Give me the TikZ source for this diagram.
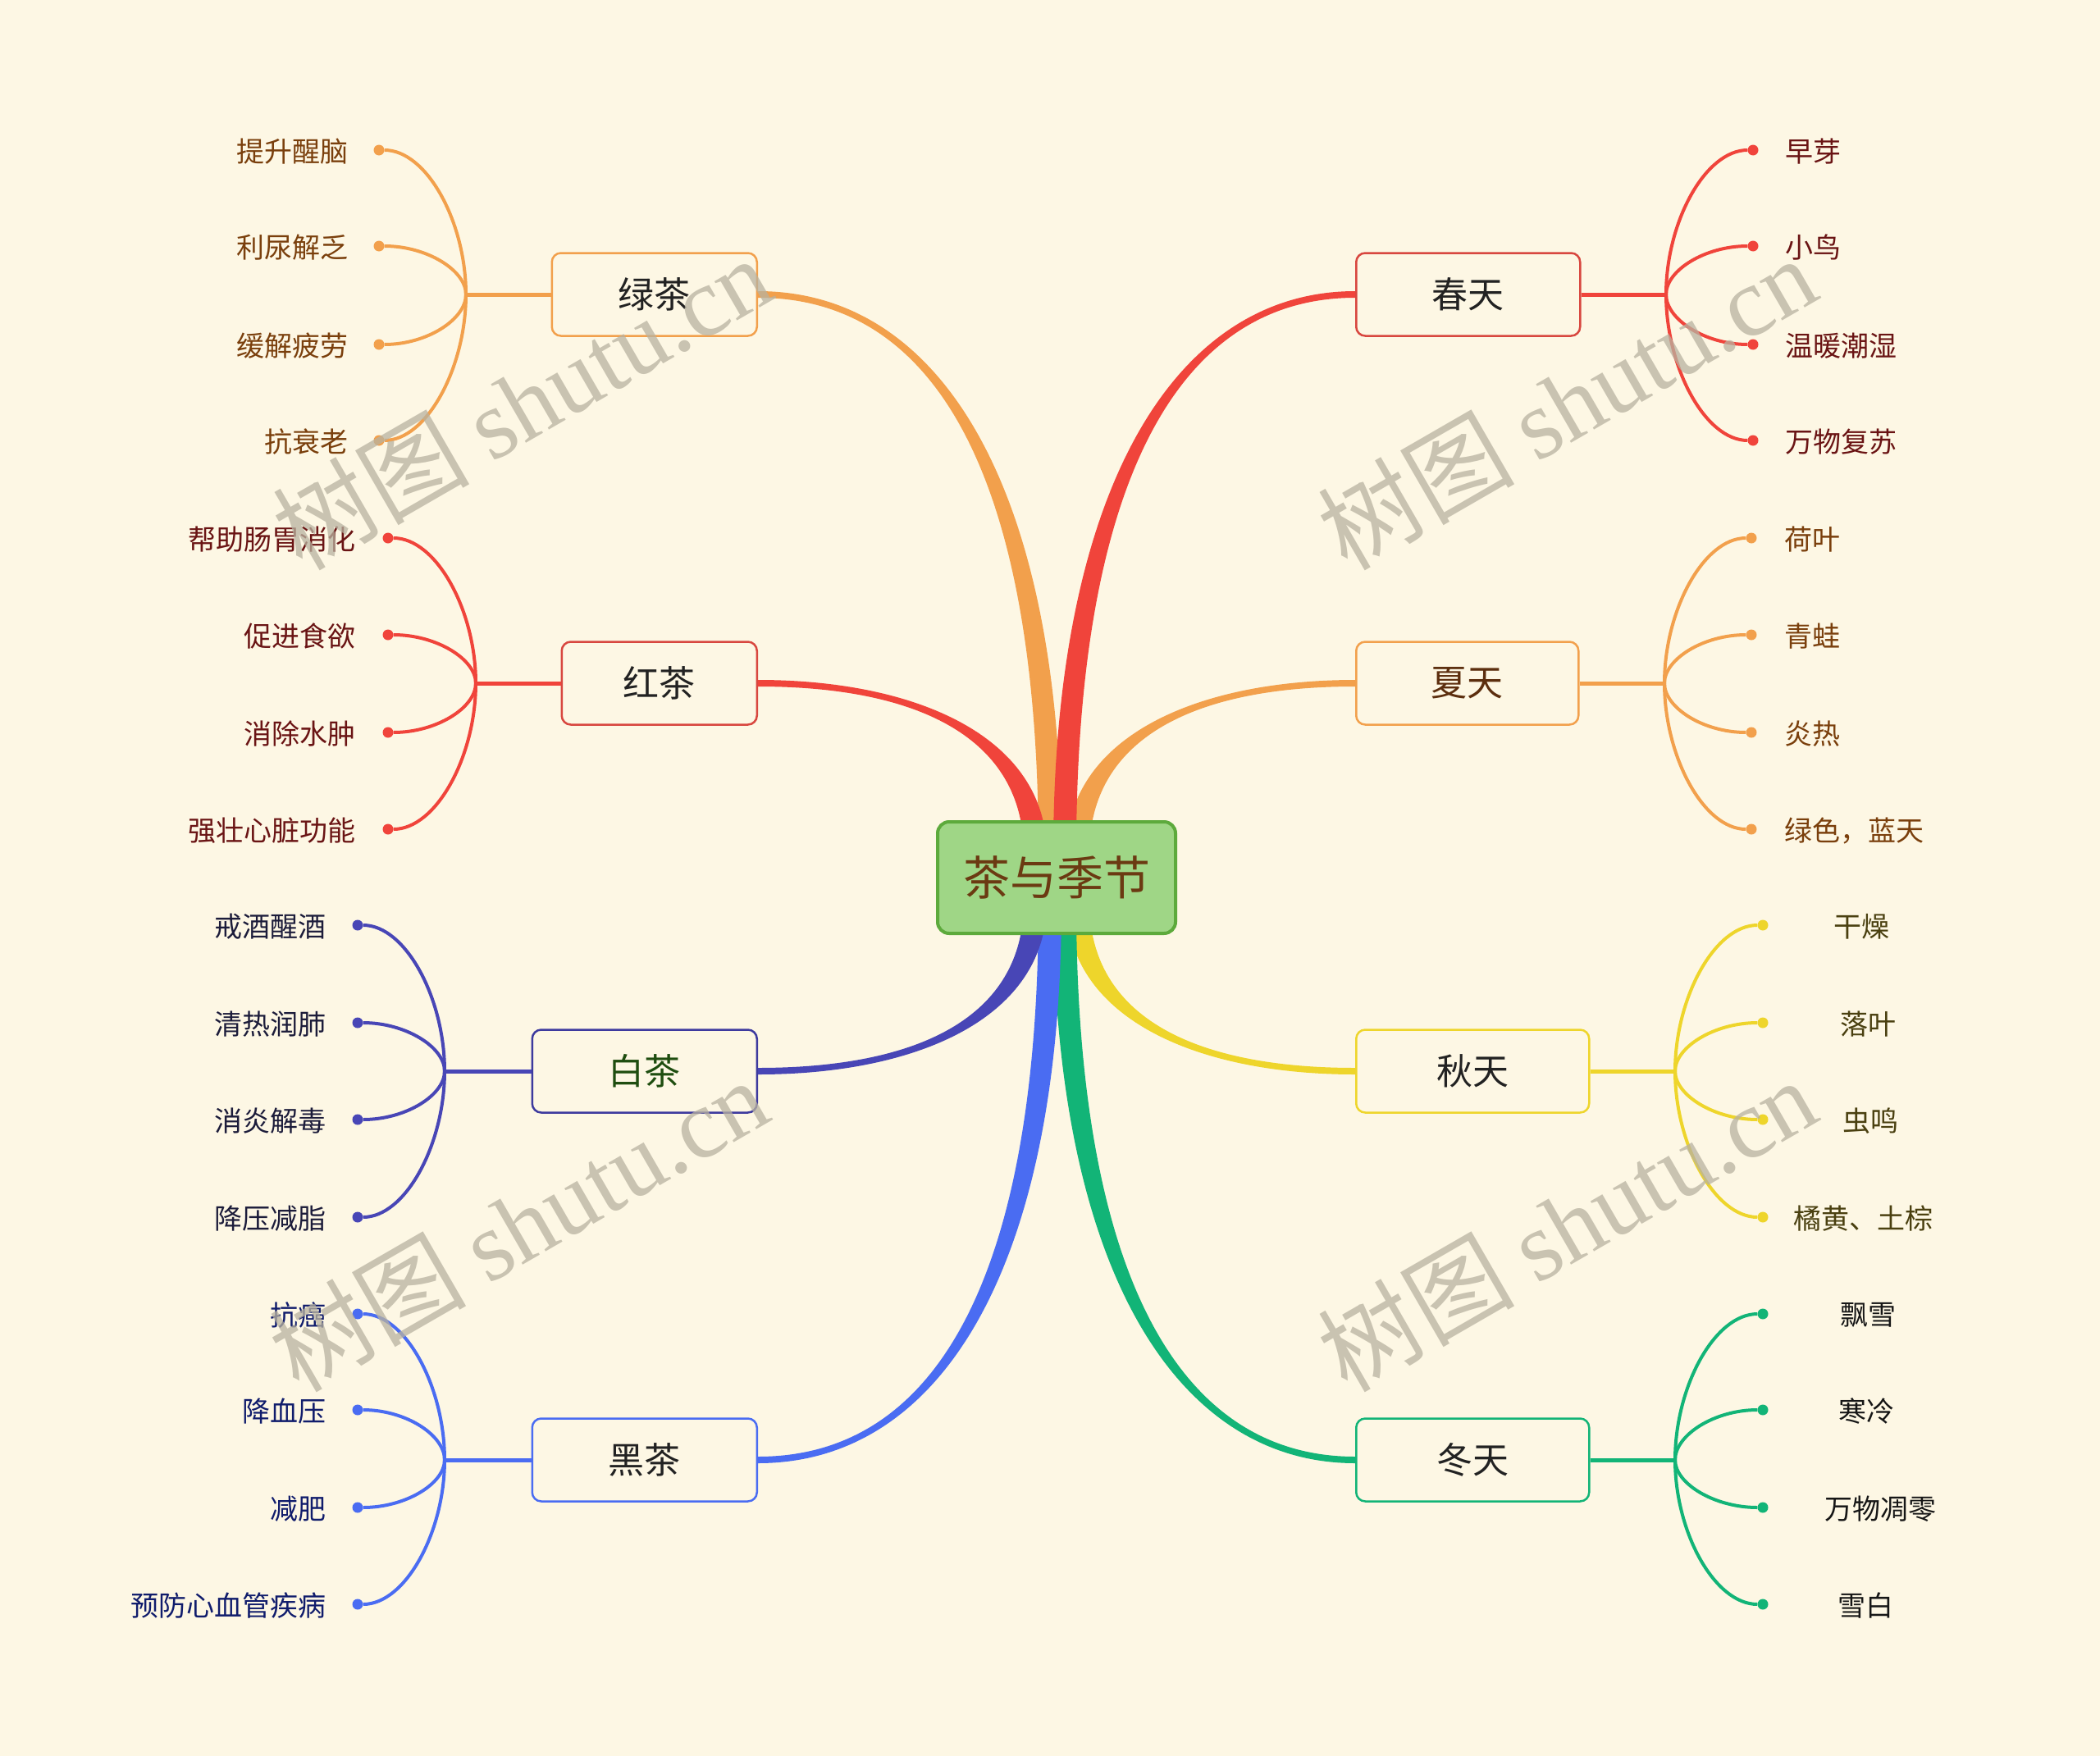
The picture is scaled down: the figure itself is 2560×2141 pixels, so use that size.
\documentclass[tikz,border=0pt]{standalone}
\usepackage{fontspec}
\setmainfont{Noto Sans CJK SC}
\newfontfamily\wmlatin{Liberation Serif}
\usetikzlibrary{calc}
\definecolor{bg}{HTML}{FDF7E4}
\definecolor{lOr}{HTML}{F2A04C}
\definecolor{lRd}{HTML}{F0443B}
\definecolor{lIn}{HTML}{4846B6}
\definecolor{lBl}{HTML}{4A6CF2}
\definecolor{lYe}{HTML}{EED52B}
\definecolor{lGn}{HTML}{12B477}
\definecolor{bRd}{HTML}{D8473F}
\definecolor{bIn}{HTML}{3D3A9E}
\definecolor{tOr}{HTML}{7A3F0C}
\definecolor{tRd}{HTML}{6A1414}
\definecolor{tIn}{HTML}{1C1C3A}
\definecolor{tBl}{HTML}{101C6C}
\definecolor{tYe}{HTML}{4A4010}
\definecolor{tGn}{HTML}{161616}
\definecolor{lvtext}{HTML}{222222}
\definecolor{baitext}{HTML}{1E4D0F}
\definecolor{xiatext}{HTML}{5C2E0E}
\definecolor{rootfill}{HTML}{9FD686}
\definecolor{rootdraw}{HTML}{5DAA3C}
\definecolor{roottext}{HTML}{6B3A12}
\definecolor{wmgray}{HTML}{B8B2A0}
\tikzset{
  lvone/.style={draw, rounded corners=11pt, line width=2.5pt, fill=bg, minimum height=101pt, inner sep=0pt, font=\fontsize{44}{50}\selectfont, text=lvtext},
  leafdot/.style={circle, fill=#1, inner sep=0pt, minimum size=13pt},
  leaftxt/.style={inner sep=0pt, yshift=-1.5pt, font=\fontsize{34}{40}\selectfont},
  leafline/.style={draw=#1, line width=4pt},
  hline/.style={draw=#1, line width=5pt},
  wm/.style={text=wmgray, text opacity=0.75, rotate=30, anchor=base west, inner sep=0pt, font=\fontsize{120}{125}\selectfont}
}
% #1 color, #2 start anchor, #3 end coordinate, #4 sx, #5 sy, #6 dx of first control, #7 dy of second control
\newcommand\mmtaper[7]{%
  \fill[#1] ($(#2)+(0,{-(#4)*4})$) .. controls ($(#2)+(#6,{-(#4)*4})$) and ($(#3)+({(#5)*14},#7)$) .. ($(#3)+({(#5)*14},0)$)
    -- ($(#3)+({-(#5)*14},0)$) .. controls ($(#3)+({-(#5)*14},#7)$) and ($(#2)+(#6,{(#4)*4})$) .. ($(#2)+(0,{(#4)*4})$) -- cycle;}
% #1 trunk name, #2 dot x, #3 line colour, #4 text colour, #5 text options, #6 list y/text/textx
\newcommand\mmleaves[6]{%
  \foreach \y/\t/\tx [count=\i] in {#6} {
    \node[leafdot=#3] (#1d\i) at (#2,\y) {};
    \node[leaftxt, text=#4, #5] (#1t\i) at (\tx,\y) {\t};
    \draw[leafline=#3] (#1) .. controls ($(#1)!0.5!(#1 |- #1d\i)$) and ($(#1 |- #1d\i)!0.45!(#1d\i)$) .. (#1d\i);
  }}
\begin{document}
\begin{tikzpicture}[x=1pt,y=-1pt]
\useasboundingbox (0,0) rectangle (2560,2141);
\fill[bg] (0,0) rectangle (2560,2141);

% level one nodes
\node[lvone, draw=lOr, anchor=east, minimum width=250pt] (nG) at (924,359) {绿茶};
\node[lvone, draw=bRd, anchor=east, minimum width=238pt] (nR) at (924,833) {红茶};
\node[lvone, draw=bIn, anchor=east, minimum width=274pt, text=baitext] (nB) at (924,1306) {白茶};
\node[lvone, draw=lBl, anchor=east, minimum width=274pt] (nK) at (924,1780) {黑茶};
\node[lvone, draw=bRd, anchor=west, minimum width=273pt] (sC) at (1652,359) {春天};
\node[lvone, draw=lOr, anchor=west, minimum width=271pt, text=xiatext] (sX) at (1652,833) {夏天};
\node[lvone, draw=lYe, anchor=west, minimum width=284pt] (sQ) at (1652,1306) {秋天};
\node[lvone, draw=lGn, anchor=west, minimum width=284pt] (sD) at (1652,1780) {冬天};

% trunks
\coordinate (tG) at (568,359);
\coordinate (tR) at (580,833);
\coordinate (tB) at (542,1306);
\coordinate (tK) at (542,1780);
\coordinate (tC) at (2031,359);
\coordinate (tX) at (2029,833);
\coordinate (tQ) at (2042,1306);
\coordinate (tD) at (2042,1780);
\draw[hline=lOr] (nG.west) -- (tG);
\draw[hline=lRd] (nR.west) -- (tR);
\draw[hline=lIn] (nB.west) -- (tB);
\draw[hline=lBl] (nK.west) -- (tK);
\draw[hline=lRd] (sC.east) -- (tC);
\draw[hline=lOr] (sX.east) -- (tX);
\draw[hline=lYe] (sQ.east) -- (tQ);
\draw[hline=lGn] (sD.east) -- (tD);

% leaves
\mmleaves{tG}{462}{lOr}{tOr}{anchor=east}{183/提升醒脑/425, 300/利尿解乏/425, 420/缓解疲劳/425, 537/抗衰老/425}
\mmleaves{tR}{473}{lRd}{tRd}{anchor=east}{656/帮助肠胃消化/434, 774/促进食欲/434, 893/消除水肿/434, 1011/强壮心脏功能/434}
\mmleaves{tB}{436}{lIn}{tIn}{anchor=east}{1128/戒酒醒酒/398, 1247/清热润肺/398, 1365/消炎解毒/398, 1484/降压减脂/398}
\mmleaves{tK}{436}{lBl}{tBl}{anchor=east}{1602/抗癌/398, 1719/降血压/398, 1838/减肥/398, 1956/预防心血管疾病/398}
\mmleaves{tC}{2137}{lRd}{tRd}{anchor=west}{183/早芽/2176, 300/小鸟/2176, 420/温暖潮湿/2176, 537/万物复苏/2176}
\mmleaves{tX}{2135}{lOr}{tOr}{anchor=west}{656/荷叶/2175, 774/青蛙/2175, 893/炎热/2175, 1011/绿色，蓝天/2175}
\mmleaves{tQ}{2149}{lYe}{tYe}{anchor=center}{1128/干燥/2269, 1247/落叶/2277, 1365/虫鸣/2280, 1484/橘黄、土棕/2271}
\mmleaves{tD}{2149}{lGn}{tGn}{anchor=center}{1602/飘雪/2277, 1719/寒冷/2275, 1838/万物凋零/2292, 1956/雪白/2274}

% thick connectors to the root
\coordinate (cG) at (1280,1040);
\coordinate (cR) at (1262,1040);
\coordinate (cC) at (1298,1040);
\coordinate (cX) at (1314,1040);
\coordinate (cB) at (1262,1100);
\coordinate (cK) at (1280,1100);
\coordinate (cQ) at (1314,1100);
\coordinate (cD) at (1298,1100);
\mmtaper{lOr}{sX.west}{cX}{-1}{1}{-196}{-140}
\mmtaper{lOr}{nG.east}{cG}{1}{1}{226}{-440}
\mmtaper{lRd}{sC.west}{cC}{-1}{1}{-222}{-440}
\mmtaper{lRd}{nR.east}{cR}{1}{1}{196}{-140}
\mmtaper{lYe}{sQ.west}{cQ}{-1}{-1}{-196}{140}
\mmtaper{lGn}{sD.west}{cD}{-1}{-1}{-222}{440}
\mmtaper{lBl}{nK.east}{cK}{1}{-1}{226}{440}
\mmtaper{lIn}{nB.east}{cB}{1}{-1}{196}{140}

% root
\node[draw=rootdraw, fill=rootfill, line width=4pt, rounded corners=14pt, minimum width=290pt, minimum height=136pt, inner sep=0pt, text=roottext, font=\fontsize{57}{62}\selectfont] (root) at (1288,1070) {茶与季节};

% watermarks
\node[wm] (w1) at (368,698) {树图 {\wmlatin shutu.cn}};
\node[wm] (w2) at (1642,698) {树图 {\wmlatin shutu.cn}};
\node[wm] (w3) at (364,1700) {树图 {\wmlatin shutu.cn}};
\node[wm] (w4) at (1642,1700) {树图 {\wmlatin shutu.cn}};
\end{tikzpicture}
\end{document}
